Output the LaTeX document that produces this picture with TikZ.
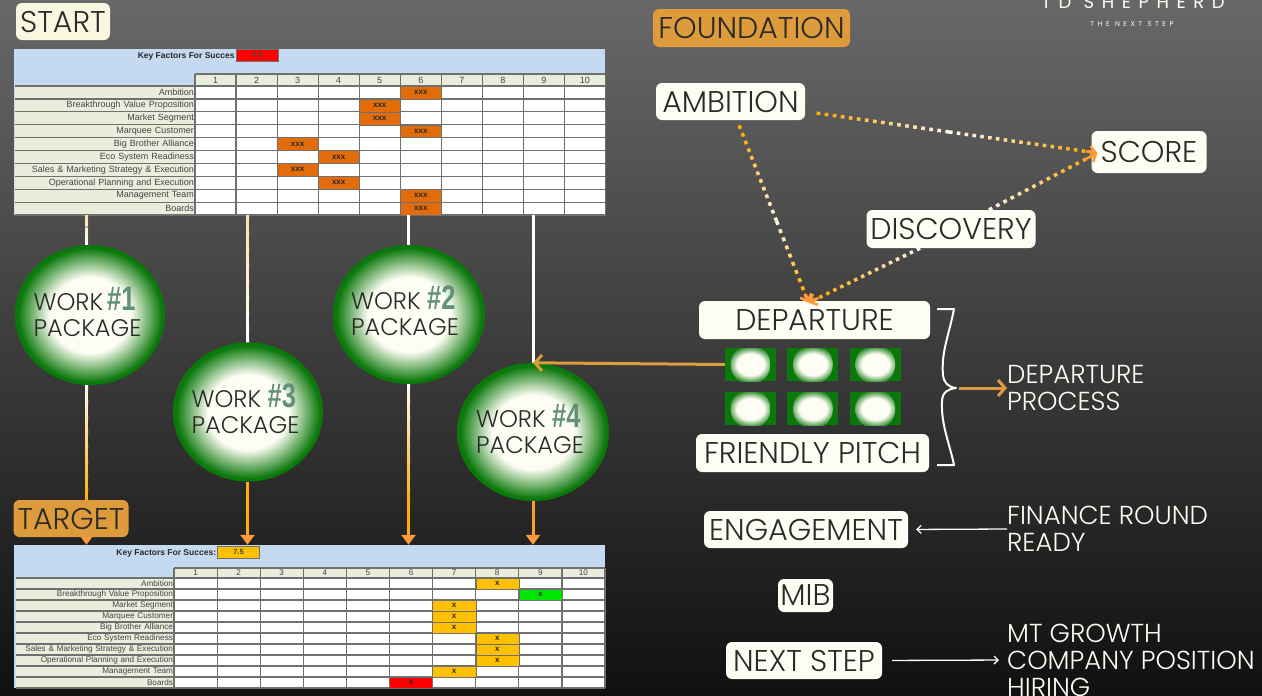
\documentclass[tikz,border=0pt]{standalone}
\usepackage{fontspec}
\setmainfont{Poppins Light}
\newfontfamily\sheetfont{Liberation Sans}
\newfontfamily\logofont{Poppins}
\usetikzlibrary{shapes.geometric, arrows.meta, positioning, calc}

\definecolor{bgtop}{HTML}{686868}
\definecolor{bgbottom}{HTML}{101010}
\definecolor{cream}{HTML}{FDFDF3}
\definecolor{startcream}{HTML}{F8F7E0}
\definecolor{gold}{HTML}{DD9B3C}
\definecolor{ink}{HTML}{2A2A2A}
\definecolor{wpgreen}{HTML}{0A780A}
\definecolor{wpnumber}{HTML}{62907A}
\definecolor{wirepale}{HTML}{FADFA6}
\definecolor{wireamber}{HTML}{FFAE0A}
\definecolor{sinkorange}{HTML}{FF9A3C}
\definecolor{sheetblue}{HTML}{C5D9F1}
\definecolor{sheethead}{HTML}{E9EDDC}
\definecolor{sheetline}{HTML}{707070}
\definecolor{sheetink}{HTML}{454545}
\definecolor{markorange}{HTML}{E26B0A}
\definecolor{markyellow}{HTML}{FFC000}
\definecolor{markgreen}{HTML}{00E600}
\definecolor{markred}{HTML}{FF0000}

\pgfdeclareradialshading{wpglow}{\pgfpoint{0bp}{0bp}}{color(0bp)=(cream); color(13.5bp)=(cream); color(24bp)=(wpgreen); color(50bp)=(wpgreen)}

\tikzset{
    tag/.style={rectangle, rounded corners=6pt, fill=cream, text=ink, inner sep=0pt, font=\fontsize{30}{30}\selectfont},
    sidetext/.style={inner sep=0pt, align=left, text=cream, font=\fontsize{26}{27}\selectfont},
    wpackage/.style={ellipse, shade, shading=wpglow, inner sep=-10pt, align=left, text=ink, font=\fontsize{24}{26}\selectfont},
    glowbox/.style={rectangle, fill=wpgreen, inner sep=0pt, minimum width=51pt, minimum height=33pt,
        path picture={\shade[shading=wpglow] (path picture bounding box.center) circle (20pt);}},
    wire/.style={line width=3pt},
    dotwire/.style={line width=3.5pt},
    sinktip/.style={line width=3pt, sinkorange, -{Triangle[width=14pt,length=10pt]}},
    dottip/.style={line width=2.5pt, sinkorange, -{Straight Barb[length=6pt,width=12pt]}},
    goldarrow/.style={line width=3pt, gold, -{Straight Barb[length=7pt,width=16pt]}},
    thinarrow/.style={line width=1.3pt, cream, -{Straight Barb[length=4pt,width=8pt]}},
    sheetcell/.style={inner sep=0pt, text=sheetink, font=\sheetfont\fontsize{#1}{#1}\selectfont},
    keybox/.style={draw=sheetline, inner sep=0pt, minimum width=42pt, minimum height=12pt, text=sheetink, font=\sheetfont\bfseries\fontsize{7.5}{8}\selectfont},
    keylabel/.style={inner sep=0pt, text=ink, font=\sheetfont\bfseries\fontsize{8.5}{9}\selectfont},
    markcell/.style={draw=sheetline, inner sep=0pt, text=ink, font=\sheetfont\bfseries\fontsize{8}{8}\selectfont}
}

% big hash number inside a work package
\newcommand{\wpnum}[1]{\smash{\textcolor{wpnumber}{\scalebox{0.75}[1]{\sheetfont\bfseries\fontsize{34}{34}\selectfont\##1}}}}

% wire that runs from one colour into another
\newcommand{\fadewire}[4]{%
    \foreach \s in {1,...,24} {
        \pgfmathsetmacro\ta{(\s-1)/24}
        \pgfmathsetmacro\tb{min(1,(\s+0.1)/24)}
        \pgfmathsetmacro\pct{100*\s/24}
        \draw[wire, color=#4!\pct!#3] ($(#1)!\ta!(#2)$) -- ($(#1)!\tb!(#2)$);
    }
}

% dotted line, white at the first end, amber at the second
\newcommand{\fadedots}[3]{%
    \foreach \s in {1,...,#3} {
        \pgfmathsetmacro\ta{(\s-1)/#3}
        \pgfmathsetmacro\tb{(\s-0.55)/#3}
        \pgfmathsetmacro\pct{min(100,110*\s/#3)}
        \draw[dotwire, color=wireamber!\pct!white] ($(#1)!\ta!(#2)$) -- ($(#1)!\tb!(#2)$);
    }
}

% name, x of column 1, column width, top of number row, row height, number row height, left x, font size, marks
\newcommand{\keysheet}[9]{%
    \pgfmathsetmacro\sheetright{#2+10*#3}
    \pgfmathsetmacro\rowtop{#4+#6}
    \pgfmathsetmacro\rowbottom{#4+#6+10*#5}
    \fill[white] (#2,\rowtop) rectangle (\sheetright,\rowbottom);
    \foreach \c in {1,...,10} {
        \pgfmathsetmacro\cx{#2+#3*(\c-0.5)}
        \pgfmathsetmacro\cy{#4+#6/2}
        \node[sheetcell=#8, fill=sheethead, minimum width=#3pt, minimum height=#6pt] (#1col\c) at (\cx,\cy) {\c};
    }
    \pgfmathsetmacro\labw{#2-#7}
    \pgfmathsetmacro\labx{(#2+#7)/2}
    \pgfmathsetmacro\labt{#2-#7-2}
    \foreach \lab [count=\r] in {Ambition, Breakthrough Value Proposition, Market Segment, Marquee Customer,
        Big Brother Alliance, Eco System Readiness, Sales \& Marketing Strategy \& Execution,
        Operational Planning and Execution, Management Team, Boards} {
        \pgfmathsetmacro\ry{\rowtop+#5*(\r-0.5)}
        \node[sheetcell=#8, fill=sheethead, minimum width=\labw pt, minimum height=#5pt, text width=\labt pt, align=right] (#1lab\r) at (\labx,\ry) {\raisebox{-1pt}{\lab}};
    }
    \foreach \c in {0,...,10} {
        \pgfmathsetmacro\cx{#2+#3*\c}
        \draw[sheetline, line width=1.2pt] (\cx,#4) -- (\cx,\rowbottom);
    }
    \foreach \r in {0,...,10} {
        \pgfmathsetmacro\ry{\rowtop+#5*\r}
        \draw[sheetline, line width=1.2pt] (#7,\ry) -- (\sheetright,\ry);
    }
    \draw[sheetline, line width=1.2pt] (#2,#4) -- (\sheetright,#4);
    \foreach \r/\c/\colr/\txt in {#9} {
        \pgfmathsetmacro\cx{#2+#3*(\c-0.5)}
        \pgfmathsetmacro\ry{\rowtop+#5*(\r-0.5)}
        \node[markcell, fill=\colr, minimum width=#3pt, minimum height=#5pt] (#1mark\r) at (\cx,\ry) {\raisebox{-1pt}{\txt}};
    }
}

\begin{document}
\begin{tikzpicture}[x=1pt, y=-1pt]
    \useasboundingbox (0,0) rectangle (1262,696);
    \clip (0,0) rectangle (1262,696);
    \shade[top color=bgtop, bottom color=bgbottom] (0,0) rectangle (1262,696);

    % Sheets
    \node (startsheet) [fill=sheetblue, inner sep=0pt, minimum width=591pt, minimum height=166pt] at (309.5,132) {};
    \keysheet{start}{195}{41.05}{74}{12.9}{12}{15}{9}{1/6/markorange/xxx, 2/5/markorange/xxx, 3/5/markorange/xxx,
        4/6/markorange/xxx, 5/3/markorange/xxx, 6/4/markorange/xxx, 7/3/markorange/xxx, 8/4/markorange/xxx,
        9/6/markorange/xxx, 10/6/markorange/xxx}
    \node (startkey) [keybox, fill=markred] at (257,55) {4.0};
    \node (startkeytext) [keylabel, left=1pt of startkey, yshift=-1.5pt] {Key Factors For Succes};

    \node (targetsheet) [fill=sheetblue, inner sep=0pt, minimum width=591pt, minimum height=143pt] at (309.5,616.5) {};
    \keysheet{target}{174}{43.1}{568}{11}{10}{16}{8.2}{1/8/markyellow/x, 2/9/markgreen/x, 3/7/markyellow/x,
        4/7/markyellow/x, 5/7/markyellow/x, 6/8/markyellow/x, 7/8/markyellow/x, 8/8/markyellow/x,
        9/7/markyellow/x, 10/6/markred/x}
    \node (targetkey) [keybox, fill=markyellow] at (238.5,552) {7.5};
    \node (targetkeytext) [keylabel, left=1pt of targetkey, yshift=-1.5pt] {Key Factors For Succes:};

    % Work packages
    \node (wp1) [wpackage, minimum width=150pt, minimum height=140pt] at (90,315) {WORK\,\wpnum{1}\\PACKAGE\hspace*{5pt}};
    \node (wp3) [wpackage, minimum width=150pt, minimum height=139pt] at (248,412) {WORK \wpnum{3}\\PACKAGE\hspace*{5pt}};
    \node (wp2) [wpackage, minimum width=152pt, minimum height=139pt] at (409,314.5) {WORK \wpnum{2}\\PACKAGE\hspace*{8pt}};
    \node (wp4) [wpackage, minimum width=152pt, minimum height=138pt] at (533,432) {WORK \wpnum{4}\\PACKAGE\hspace*{6pt}};

    % Wires from sheet to sheet
    \coordinate (colA) at (86.5,0);
    \coordinate (colB) at (247.5,0);
    \coordinate (colC) at (408.5,0);
    \coordinate (colD) at (533,0);
    \fadewire{colA |- startsheet.south}{colA |- wp1.north}{wirepale}{white}
    \fadewire{colB |- startsheet.south}{colB |- wp3.north}{wirepale}{white}
    \draw[wire, white] (colC |- startsheet.south) -- (colC |- wp2.north);
    \draw[wire, white] (colD |- startsheet.south) -- (colD |- wp4.north);
    \foreach \wp/\col in {wp1/colA, wp2/colC} {
        \coordinate (sink) at (\col |- targetsheet.north);
        \fadewire{\col |- \wp.south}{$(sink)+(0,-42)$}{white}{wireamber}
        \draw[wire, wireamber] ($(sink)+(0,-43)$) -- ($(sink)+(0,-10)$);
    }
    \draw[wire, wireamber] (colB |- wp3.south) -- ($(colB |- targetsheet.north)+(0,-10)$);
    \draw[wire, sinkorange] (colD |- wp4.south) -- ($(colD |- targetsheet.north)+(0,-10)$);
    \foreach \col in {colA, colB, colC, colD} {
        \draw[sinktip] ($(\col |- targetsheet.north)+(0,-12)$) -- (\col |- targetsheet.north);
    }

    % Tags left
    \node (start) [tag, fill=startcream, minimum width=94pt, minimum height=37pt] at (63,21.5) {START};
    \node (target) [tag, fill=gold, minimum width=115pt, minimum height=37pt] at (71,518.5) {TARGET};

    % Tags right
    \node (foundation) [tag, fill=gold, minimum width=197pt, minimum height=38pt] at (751.5,28) {FOUNDATION};
    \node (ambition) [tag, minimum width=149pt, minimum height=37pt] at (730.5,101.5) {AMBITION};
    \node (score) [tag, minimum width=115pt, minimum height=42pt] at (1149,152) {SCORE};
    \node (discovery) [tag, minimum width=169pt, minimum height=38pt] at (951,229) {DISCOVERY};
    \node (departure) [tag, minimum width=231pt, minimum height=38pt] at (814.5,320) {DEPARTURE};
    \node (friendly) [tag, minimum width=233pt, minimum height=38pt] at (812.5,453) {FRIENDLY PITCH};
    \node (engagement) [tag, minimum width=204pt, minimum height=37pt] at (806,529.5) {ENGAGEMENT};
    \node (mib) [tag, minimum width=55pt, minimum height=33pt] at (805.5,595.5) {MIB};
    \node (nextstep) [tag, minimum width=156pt, minimum height=37pt] at (804,660.5) {NEXT STEP};

    % Logo
    \node (logo) [inner sep=0pt, anchor=base, text=cream, font=\logofont\fontsize{18}{18}\selectfont\addfontfeature{LetterSpace=42}] at (1133,9) {TD SHEPHERD};
    \node (logotag) [inner sep=0pt, text=cream, font=\logofont\fontsize{7}{7}\selectfont\addfontfeature{LetterSpace=50}] at (1132,24) {THE NEXT STEP};

    % Dotted links
    \coordinate (ambitionE) at ($(ambition.east)+(7,11)$);
    \coordinate (ambitionS) at ($(ambition.south)+(7,1)$);
    \coordinate (scoreW) at ($(score.west)+(6,1)$);
    \coordinate (departureN) at ($(departure.north)+(-6,2)$);
    \coordinate (midtop) at ($(ambitionE)!0.48!(scoreW)$);
    \coordinate (midleft) at ($(ambitionS)!0.55!(departureN)$);
    \coordinate (discoveryN) at ($(discovery.north)+(38,0)$);
    \coordinate (discoveryS) at ($(discovery.south)+(-31,0)$);
    \fadedots{midtop}{ambitionE}{17}
    \fadedots{midtop}{scoreW}{19}
    \fadedots{midleft}{ambitionS}{13}
    \fadedots{midleft}{departureN}{10}
    \fadedots{discoveryN}{scoreW}{15}
    \fadedots{discoveryS}{departureN}{16}
    \draw[dottip] ($(ambitionE)!0.96!(scoreW)$) -- (scoreW);
    \draw[dottip] ($(discoveryN)!0.88!(scoreW)$) -- (scoreW);
    \draw[dottip] ($(ambitionS)!0.95!(departureN)$) -- (departureN);
    \draw[dottip] ($(discoveryS)!0.91!(departureN)$) -- (departureN);

    % Glow boxes
    \node (glow1) [glowbox] at (750.5,364.5) {};
    \node (glow2) [glowbox, right=11pt of glow1] {};
    \node (glow3) [glowbox, right=11pt of glow2] {};
    \node (glow4) [glowbox, below=11pt of glow1] {};
    \node (glow5) [glowbox, right=11pt of glow4] {};
    \node (glow6) [glowbox, right=11pt of glow5] {};
    \draw[goldarrow] (glow1.west) -- (wp4.north);

    % Brace
    \coordinate (bracetip) at (959,388);
    \draw[cream, line width=2pt, line join=round] (937,309) -- (954,309) .. controls (949,335) and (941,352) .. (943,375)
        .. controls (944,383) and (948,387) .. (956,388) .. controls (948,389) and (942,392) .. (942,402)
        .. controls (941,425) and (950,445) .. (954,465) -- (937,465);

    % Side texts
    \node (process) [sidetext, anchor=west] at (1007,388) {DEPARTURE\\PROCESS};
    \node (finance) [sidetext, anchor=west] at (1007,529) {FINANCE ROUND\\READY};
    \node (growth) [sidetext, anchor=west] at (1007,660) {MT GROWTH\\COMPANY POSITION\\HIRING};
    \draw[goldarrow] (bracetip) -- (process.west);
    \draw[thinarrow, shorten >=8pt] (finance.west) -- (engagement.east);
    \draw[thinarrow, shorten <=10pt, shorten >=8pt] (nextstep.east) -- (growth.west);

\end{tikzpicture}
\end{document}
